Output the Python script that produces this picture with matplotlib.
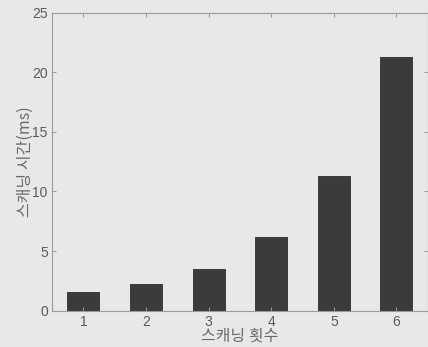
import numpy as np
from matplotlib import pyplot as plt

plt.rcParams['font.family'] = ['Liberation Sans', 'Noto Sans CJK KR', 'DejaVu Sans']

# scan count vs scanning time
scans = [1, 2, 3, 4, 5, 6]
times = [1.53, 2.2, 3.51, 6.15, 11.3, 21.3]  # ms
yticks = [0, 5, 10, 15, 20, 25]

bg = '#e8e8e6'
edge = '#9a9a9a'
txt = '#5a5a5a'

fig = plt.figure(figsize=(4.28, 3.47), dpi=100, facecolor=bg)
ax = fig.add_axes([0.1215, 0.105, 0.878, 0.858], facecolor=bg)

ax.bar(scans, times, width=0.51, color='#3b3b3b', edgecolor='#2e2e2e', linewidth=0.6)

ax.set_xlim(0.5, 6.5)
ax.set_ylim(0, 25)
ax.set_xticks(scans)
ax.set_yticks(yticks)
ax.tick_params(direction='in', top=True, right=True, length=3, width=0.7,
               color=edge, labelcolor=txt, labelsize=10, pad=3)
for s in ax.spines.values():
    s.set_color(edge)
    s.set_linewidth(0.8)

ax.set_xlabel("스캐닝 횟수", fontsize=11.5, color='#6a6a6a', labelpad=-1,
              family=['Noto Sans CJK KR', 'DejaVu Sans'])
ax.set_ylabel("스캐닝 시간(ms)", fontsize=11.5, color='#6a6a6a', labelpad=-1,
              family=['Noto Sans CJK KR', 'DejaVu Sans'])

plt.savefig("out.png", dpi=100, facecolor=bg)
